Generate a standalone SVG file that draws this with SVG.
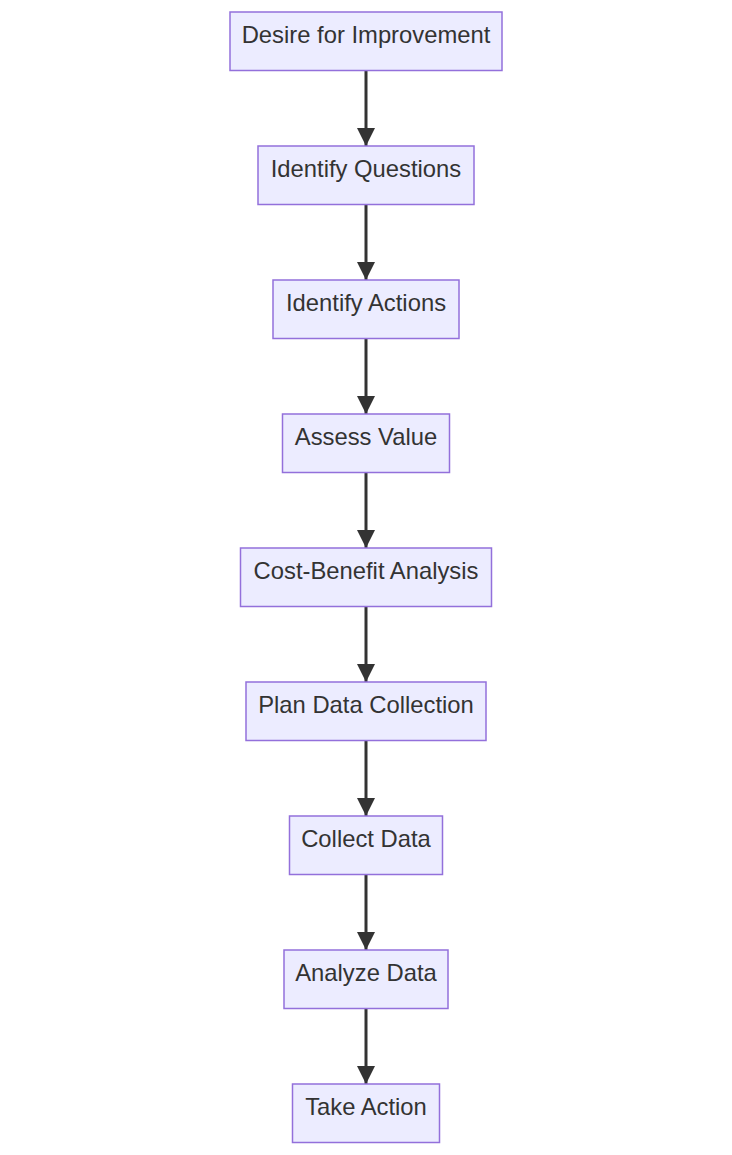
<svg xmlns="http://www.w3.org/2000/svg" width="732" height="1155" viewBox="0 0 732 1155">
<style>
.node rect{fill:#ECECFF;stroke:#9370DB;stroke-width:1.5}
.node text{font-family:"Liberation Sans",Arial,sans-serif;font-size:23.8px;fill:#333;text-anchor:middle}
.edge{stroke:#333;stroke-width:3;fill:none}
</style>
<defs>
<marker id="arrow" viewBox="0 0 10 10" refX="10" refY="5" markerWidth="6" markerHeight="6" markerUnits="strokeWidth" orient="auto">
<path d="M0,0 L10,5 L0,10 z" fill="#333"/>
</marker>
</defs>
<rect width="732" height="1155" fill="#fff"/>
<g id="connectors">
<path class="edge" d="M366,71 V146" marker-end="url(#arrow)"/>
<path class="edge" d="M366,205 V280" marker-end="url(#arrow)"/>
<path class="edge" d="M366,339 V414" marker-end="url(#arrow)"/>
<path class="edge" d="M366,473 V548" marker-end="url(#arrow)"/>
<path class="edge" d="M366,607 V682" marker-end="url(#arrow)"/>
<path class="edge" d="M366,741 V816" marker-end="url(#arrow)"/>
<path class="edge" d="M366,875 V950" marker-end="url(#arrow)"/>
<path class="edge" d="M366,1009 V1084" marker-end="url(#arrow)"/>
</g>
<g id="n1" class="node"><rect x="230" y="12" width="272" height="58.5"/><text x="366" y="42.5">Desire for Improvement</text></g>
<g id="n2" class="node"><rect x="258" y="146" width="216" height="58.5"/><text x="366" y="176.5">Identify Questions</text></g>
<g id="n3" class="node"><rect x="273" y="280" width="186" height="58.5"/><text x="366" y="310.5">Identify Actions</text></g>
<g id="n4" class="node"><rect x="282.5" y="414" width="167" height="58.5"/><text x="366" y="444.5">Assess Value</text></g>
<g id="n5" class="node"><rect x="240.5" y="548" width="251" height="58.5"/><text x="366" y="578.5">Cost-Benefit Analysis</text></g>
<g id="n6" class="node"><rect x="246" y="682" width="240" height="58.5"/><text x="366" y="712.5">Plan Data Collection</text></g>
<g id="n7" class="node"><rect x="289.5" y="816" width="153" height="58.5"/><text x="366" y="846.5">Collect Data</text></g>
<g id="n8" class="node"><rect x="284" y="950" width="164" height="58.5"/><text x="366" y="980.5">Analyze Data</text></g>
<g id="n9" class="node"><rect x="292.5" y="1084" width="147" height="58.5"/><text x="366" y="1114.5">Take Action</text></g>
</svg>
